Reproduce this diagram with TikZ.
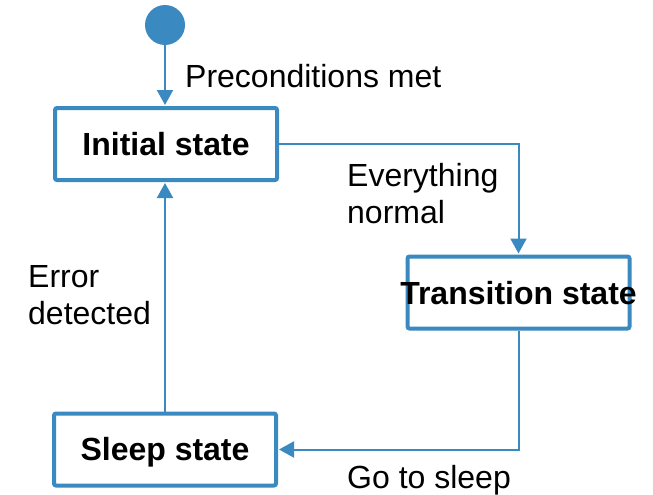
\documentclass[tikz,border=0pt]{standalone}
\usepackage{fontspec}
\setmainfont{Liberation Sans}
\usetikzlibrary{arrows.meta}
\definecolor{stateblue}{RGB}{58,137,192}
\tikzset{
  statebox/.style={draw=stateblue, line width=4pt, rounded corners=2pt,
    minimum width=222pt, minimum height=72pt, inner sep=0pt, fill=white},
  statetext/.style={font=\fontsize{32pt}{37pt}\selectfont\bfseries, inner sep=0pt,
    text=black, anchor=base},
  edgelabel/.style={font=\fontsize{32pt}{37pt}\selectfont, inner sep=0pt, text=black, align=left},
  flow/.style={draw=stateblue, line width=2pt,
    -{Triangle[width=16pt,length=15pt]}, shorten >=1pt},
  startdot/.style={circle, fill=stateblue, minimum size=40pt, inner sep=0pt}
}
\begin{document}
\begin{tikzpicture}[x=1pt,y=-1pt]
  \useasboundingbox (0,0) rectangle (653,495);

  % initial pseudo-state
  \node[startdot] (start) at (165,25) {};

  % states
  \node[statebox] (init) at (166,144) {};
  \node[statebox] (trans) at (518.5,292.5) {};
  \node[statebox] (sleep) at (165,449.5) {};
  \node[statetext] (tinit) at ([yshift=-11.5pt]init.center) {Initial state};
  \node[statetext] (ttrans) at ([yshift=-12pt]trans.center) {Transition state};
  \node[statetext] (tsleep) at ([yshift=-11pt]sleep.center) {Sleep state};

  % transitions
  \draw[flow] (start.south) -- (start.south |- init.north);
  \draw[flow] (init.east) -| (trans.north);
  \draw[flow] (trans.south) |- (sleep.east);
  \draw[flow] (sleep.north) -- (sleep.north |- init.south);

  % transition labels (base anchor sits on the last line)
  \node[edgelabel, anchor=base west] (lpre) at (185,87) {Preconditions met};
  \node[edgelabel, anchor=base west] (lnorm) at (347,223) {Everything\\normal};
  \node[edgelabel, anchor=base west] (lerr) at (28,324) {Error\\detected};
  \node[edgelabel, anchor=base west] (lsleep) at (347,488) {Go to sleep};
\end{tikzpicture}
\end{document}
